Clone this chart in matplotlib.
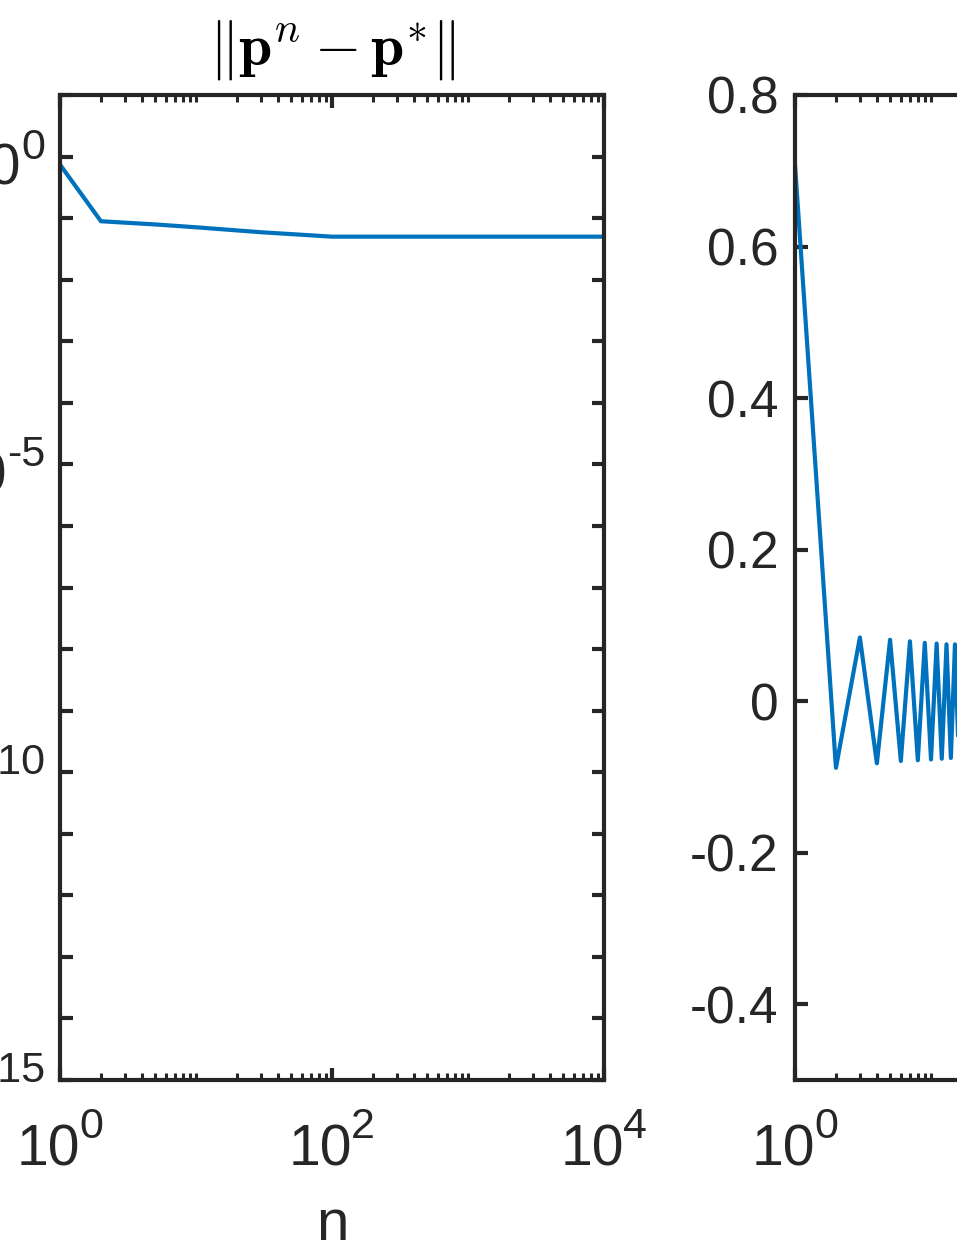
import numpy as np
import matplotlib
matplotlib.use("Agg")
import matplotlib.pyplot as plt
from matplotlib.ticker import FixedLocator, FuncFormatter, NullLocator, NullFormatter
from matplotlib.transforms import ScaledTranslation

# ---- data ----
n_err = [1, 2, 5, 10, 30, 100, 300, 1000, 10000]
err_vals = [0.74, 0.089, 0.079, 0.071, 0.059, 0.050, 0.050, 0.050, 0.050]

n_osc = list(range(1, 17))
osc_vals = [0.708, -0.088, 0.084, -0.082, 0.081, -0.079, 0.079, -0.078,
            0.077, -0.077, 0.076, -0.076, 0.075, -0.075, 0.075, -0.074]

left_title = r'$\|\mathbf{p}^n - \mathbf{p}^{*}\|$'
xlabel = 'n'
x_major = [1, 1e2, 1e4]
left_ylabel_exps = [0, -5, -10, -15]
right_yticks = [-0.4, -0.2, 0, 0.2, 0.4, 0.6, 0.8]

# ---- style ----
plt.rcParams['font.family'] = ['Liberation Sans', 'DejaVu Sans']
plt.rcParams['axes.unicode_minus'] = False

LINE = '#0072BD'
AX = '#262626'
FS_LIN = 37
FS_BASE = 41
FS_EXP = 31
FS_LAB = 42

fig = plt.figure(figsize=(9.57, 12.51), dpi=100)
W, H = 957, 1251
def pos(x0, y0, x1, y1):
    return [x0 / W, 1 - y1 / H, (x1 - x0) / W, (y1 - y0) / H]

def px(dx, dy):
    return ScaledTranslation(dx / fig.dpi, dy / fig.dpi, fig.dpi_scale_trans)

ax1 = fig.add_axes(pos(60, 95, 604, 1080))
ax2 = fig.add_axes(pos(795, 95, 1339, 1080))

def style(ax):
    for s in ax.spines.values():
        s.set_color(AX)
        s.set_linewidth(3.0)
    ax.set_xscale('log')
    ax.set_xlim(1, 1e4)
    ax.xaxis.set_major_locator(FixedLocator(x_major))
    minors = [m * 10**d for d in range(0, 4) for m in range(1, 10) if not (m == 1 and d % 2 == 0)]
    ax.xaxis.set_minor_locator(FixedLocator(minors))
    ax.xaxis.set_major_formatter(NullFormatter())
    ax.xaxis.set_minor_formatter(NullFormatter())
    ax.tick_params(which='both', direction='in', top=True, right=True,
                   colors=AX, labelcolor=AX)
    ax.tick_params(which='major', length=9, width=3)
    ax.tick_params(axis='y', which='major', pad=12)
    ax.tick_params(which='minor', length=5, width=2.2)
    # log tick labels 10^k drawn as base + raised exponent
    tr = ax.get_xaxis_transform()
    for v in x_major:
        e = int(round(np.log10(v)))
        ax.text(v, 0, '10', transform=tr + px(20, -85), ha='right', va='baseline',
                fontsize=FS_BASE, color=AX, clip_on=False)
        ax.text(v, 0, str(e), transform=tr + px(19, -58), ha='left', va='baseline',
                fontsize=FS_EXP, color=AX, clip_on=False)
    ax.set_xlabel(xlabel, fontsize=FS_LAB, color=AX, va='baseline')
    ax.xaxis.set_label_coords(0.5, -160 / 985)

# left panel
style(ax1)
ax1.plot(n_err, err_vals, color=LINE, lw=3.0)
ax1.set_yscale('log')
ax1.set_ylim(1e-15, 1e1)
ax1.yaxis.set_major_locator(FixedLocator([10.0**k for k in range(-15, 2)]))
ax1.yaxis.set_minor_locator(NullLocator())
ax1.yaxis.set_major_formatter(NullFormatter())
ytr = ax1.get_yaxis_transform()
for e in left_ylabel_exps:
    et = ax1.text(0, 10.0**e, str(e), transform=ytr + px(-15, -2), ha='right',
                  va='baseline', fontsize=FS_EXP, color=AX, clip_on=False)
    ax1.annotate('10', xy=(0, 10.0**e), xycoords=(et, ytr), xytext=(0, -28),
                 textcoords='offset pixels', ha='right', va='baseline',
                 fontsize=FS_BASE, color=AX, annotation_clip=False)
ax1.set_title(left_title, fontsize=43, math_fontfamily='cm', pad=22)

# right panel
style(ax2)
ax2.plot(n_osc, osc_vals, color=LINE, lw=3.0)
ax2.set_ylim(-0.5, 0.8)
ax2.yaxis.set_major_locator(FixedLocator(right_yticks))
ax2.yaxis.set_major_formatter(FuncFormatter(lambda v, p: ('%g' % v)))
ax2.tick_params(axis='y', labelsize=FS_LIN)

fig.savefig('out.png', dpi=100)
